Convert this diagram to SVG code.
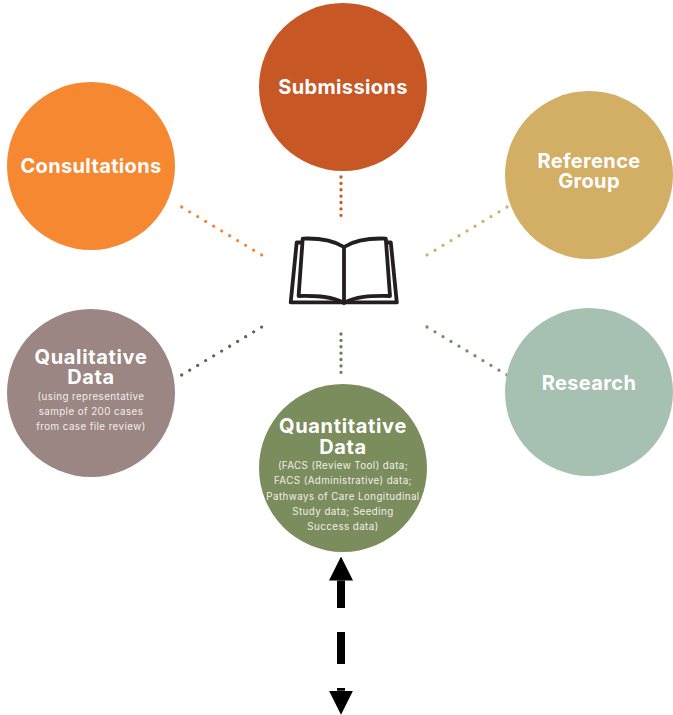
<svg xmlns="http://www.w3.org/2000/svg" width="673" height="715" viewBox="0 0 673 715">
<style>
text{font-family:"Inter","Liberation Sans",sans-serif;fill:#fff;text-anchor:middle}
.t{font-size:20px;font-weight:700;letter-spacing:.35px}
.w{letter-spacing:.65px}
.s{font-size:9.8px;font-weight:400;fill:#f1eeea;letter-spacing:.42px}
.d{fill:none;stroke-width:3.3;stroke-linecap:round}
.b{fill:none;stroke:#231f20;stroke-width:3.8;stroke-linejoin:round;stroke-linecap:round}
</style>
<defs>
<marker id="head" markerUnits="userSpaceOnUse" markerWidth="24" markerHeight="24" refX="0" refY="12" orient="auto-start-reverse" viewBox="0 0 24 24"><path d="M0 0 24 12 0 24Z" fill="#000"/></marker>
</defs>
<rect width="673" height="715" fill="#fff"/>
<g id="connectors">
<path class="d" stroke="#c85726" stroke-dasharray="0 6.38" d="M341 177V215.6"/>
<path class="d" stroke="#f58733" stroke-dasharray="0 9.32" d="M181.7 207 261.9 255.1"/>
<path class="d" stroke="#d3ad65" stroke-dasharray="0 9.32" d="M507 207 426.8 255.1"/>
<path class="d" stroke="#6f5c58" stroke-dasharray="0 9.32" d="M181.7 375 261.9 326.9"/>
<path class="d" stroke="#7b8d5c" stroke-dasharray="0 9.32" d="M427 327 507.2 375.1"/>
<path class="d" stroke="#5f8550" stroke-dasharray="0 6.38" d="M341 334V372.6"/>
<path fill="none" stroke="#000" stroke-width="8" stroke-dasharray="27.5 24 32 24 3" d="M341 580.5V690.7" marker-start="url(#head)" marker-end="url(#head)"/>
</g>
<g id="book">
<path class="b" d="M296.7 242.5 290.7 302.4H396.8L390.8 242.5M296.7 242.5H300.5M390.8 242.5H387"/>
<path class="b" d="M344 247C333 240 320 238 302.7 238.6L298.6 296C318 295.5 333 296.5 344 303C355 296.5 370 295.5 390 296L385.8 238.6C368 238 355 240 344 247V303"/>
</g>
<g id="submissions"><circle cx="343" cy="87" r="84" fill="#c85726"/><text class="t" x="343" y="94">Submissions</text></g>
<g id="consultations"><circle cx="91" cy="166" r="84" fill="#f78832"/><text class="t" x="91" y="173">Consultations</text></g>
<g id="reference-group"><circle cx="589" cy="175" r="84" fill="#d3ae65"/><text class="t"><tspan x="589" y="168">Reference</tspan><tspan x="589" y="188">Group</tspan></text></g>
<g id="qualitative-data"><circle cx="91" cy="393" r="84" fill="#9b8683"/><text class="t w"><tspan x="91" y="364">Qualitative</tspan><tspan x="91" y="384">Data</tspan></text><text class="s"><tspan x="91" y="400">(using representative</tspan><tspan x="91" y="415">sample of 200 cases</tspan><tspan x="91" y="430">from case file review)</tspan></text></g>
<g id="research"><circle cx="589" cy="392" r="84" fill="#a6c1b1"/><text class="t" x="589" y="390">Research</text></g>
<g id="quantitative-data"><circle cx="343" cy="468" r="84" fill="#7b8d5c"/><text class="t w"><tspan x="343" y="433">Quantitative</tspan><tspan x="343" y="454">Data</tspan></text><text class="s"><tspan x="343" y="469">(FACS (Review Tool) data;</tspan><tspan x="343" y="484">FACS (Administrative) data;</tspan><tspan x="343" y="500">Pathways of Care Longitudinal</tspan><tspan x="343" y="515">Study data; Seeding</tspan><tspan x="343" y="530">Success data)</tspan></text></g>
</svg>
